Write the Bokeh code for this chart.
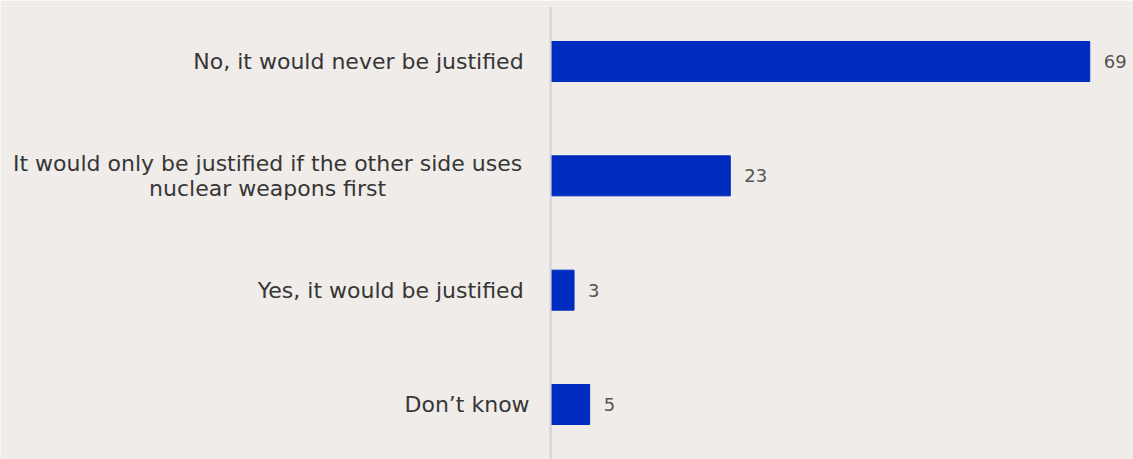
from bokeh.plotting import figure
from bokeh.models import FactorRange, Range1d, Span, ColumnDataSource
from bokeh.embed import file_html
from bokeh.resources import INLINE
from bokeh.core.properties import value

categories = [
    "No, it would never be justified",
    "It would only be justified if the other side uses\nnuclear weapons first",
    "Yes, it would be justified",
    "Don\u2019t know",
]
values = [69, 23, 3, 5]
value_labels = ["69", "23", "3", "5"]

BG = "#efece9"
BAR = "#002bbf"
FONT = value("DejaVu Sans")

# label styling: multi-line labels are centred as a block left of the axis
label_align = ["center" if "\n" in c else "right" for c in categories]
label_offset = [-283 if "\n" in c else -27 for c in categories]
label_offset[3] = -21

src = ColumnDataSource(dict(
    cat=categories,
    val=values,
    lab=value_labels,
    zero=[0] * len(categories),
    align=label_align,
    off=label_offset,
))

p = figure(
    width=1133, height=459,
    x_range=Range1d(-70.4, 74.6),
    y_range=FactorRange(factors=list(reversed(categories)),
                        range_padding=-0.019, range_padding_units="absolute"),
    output_backend="svg", toolbar_location=None,
    min_border_left=0, min_border_right=0, min_border_top=6, min_border_bottom=0,
    background_fill_color=BG, border_fill_color=BG, outline_line_color=None,
)
p.xaxis.visible = False
p.yaxis.visible = False
p.grid.visible = False

p.add_layout(Span(location=0, dimension="height", line_color="#d2d2d2", line_width=2))

p.hbar(y="cat", left="zero", right="val", height=0.35, source=src,
       fill_color=BAR, line_color=BAR)

p.text(x="zero", y="cat", text="cat", source=src, x_offset="off",
       text_align="align", text_baseline="middle",
       text_font=FONT, text_font_size="22px",
       text_color="#363636", text_line_height=1.0)

p.text(x="val", y="cat", text="lab", source=src, x_offset=14,
       text_align="left", text_baseline="middle",
       text_font=FONT, text_font_size="18px",
       text_color="#555555")

open("out.html", "w").write(file_html(p, INLINE))
